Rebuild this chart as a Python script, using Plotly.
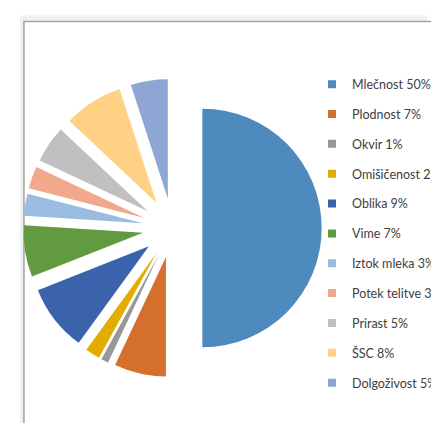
import plotly.graph_objects as go

# ---- data ----
categories = ["Mlečnost", "Plodnost", "Okvir", "Omišičenost", "Oblika", "Vime",
              "Iztok mleka", "Potek telitve", "Prirast", "ŠSC", "Dolgoživost"]
shares = [50, 7, 1, 2, 9, 7, 3, 3, 5, 8, 5]
colors = ["#4F8ABE", "#D46F2D", "#989898", "#E3AC00", "#3A63AC", "#629B3F",
          "#9BBCE1", "#F1A88C", "#C0C0C0", "#FFD185", "#8FA5D4"]

W, H = 439, 423
R = 131          # pie radius (px)
PULL = 0.25
CX, CY = 180.5, 220   # pie centre (px from top-left)
half = R * (1 + PULL)

fig = go.Figure()

fig.add_trace(go.Pie(
    labels=categories,
    values=shares,
    sort=False,
    direction="clockwise",
    rotation=0,
    pull=[PULL] * len(shares),
    marker=dict(colors=colors, line=dict(width=0)),
    textinfo="none",
    hoverinfo="label+percent",
    showlegend=False,
    domain=dict(x=[(CX - half) / W, (CX + half) / W],
                y=[(H - CY - half) / H, (H - CY + half) / H]),
))

# legend entries
for cat, val, col in zip(categories, shares, colors):
    fig.add_trace(go.Scatter(
        x=[None], y=[None], mode="markers",
        marker=dict(symbol="square", size=8, color=col),
        name=f"{cat} {val}%",
        legendgroup=cat,
        showlegend=True,
        hoverinfo="skip",
    ))

def px_x(v):
    return v / W

def px_y(v):
    return 1 - v / H

fig.update_layout(
    width=W, height=H,
    margin=dict(l=0, r=0, t=0, b=0),
    paper_bgcolor="white",
    plot_bgcolor="rgba(0,0,0,0)",
    xaxis=dict(visible=False),
    yaxis=dict(visible=False),
    font=dict(family="Lato", size=12.5, color="#404040"),
    legend=dict(
        x=px_x(334), y=px_y(61.5), xanchor="left", yanchor="top",
        tracegroupgap=10.6,
        font=dict(family="Lato", size=12.5, color="#404040"),
        bgcolor="rgba(0,0,0,0)",
    ),
    shapes=[
        dict(type="rect", xref="paper", yref="paper", layer="below",
             x0=px_x(13), x1=px_x(460), y0=px_y(7.5), y1=px_y(460),
             fillcolor="#F0F0F0", line=dict(width=0)),
        dict(type="rect", xref="paper", yref="paper", layer="below",
             x0=px_x(17.5), x1=px_x(470), y0=px_y(13.5), y1=px_y(470),
             fillcolor="white", line=dict(color="#A3A3A3", width=1.5)),
    ],
)

fig.write_html("out.html")
